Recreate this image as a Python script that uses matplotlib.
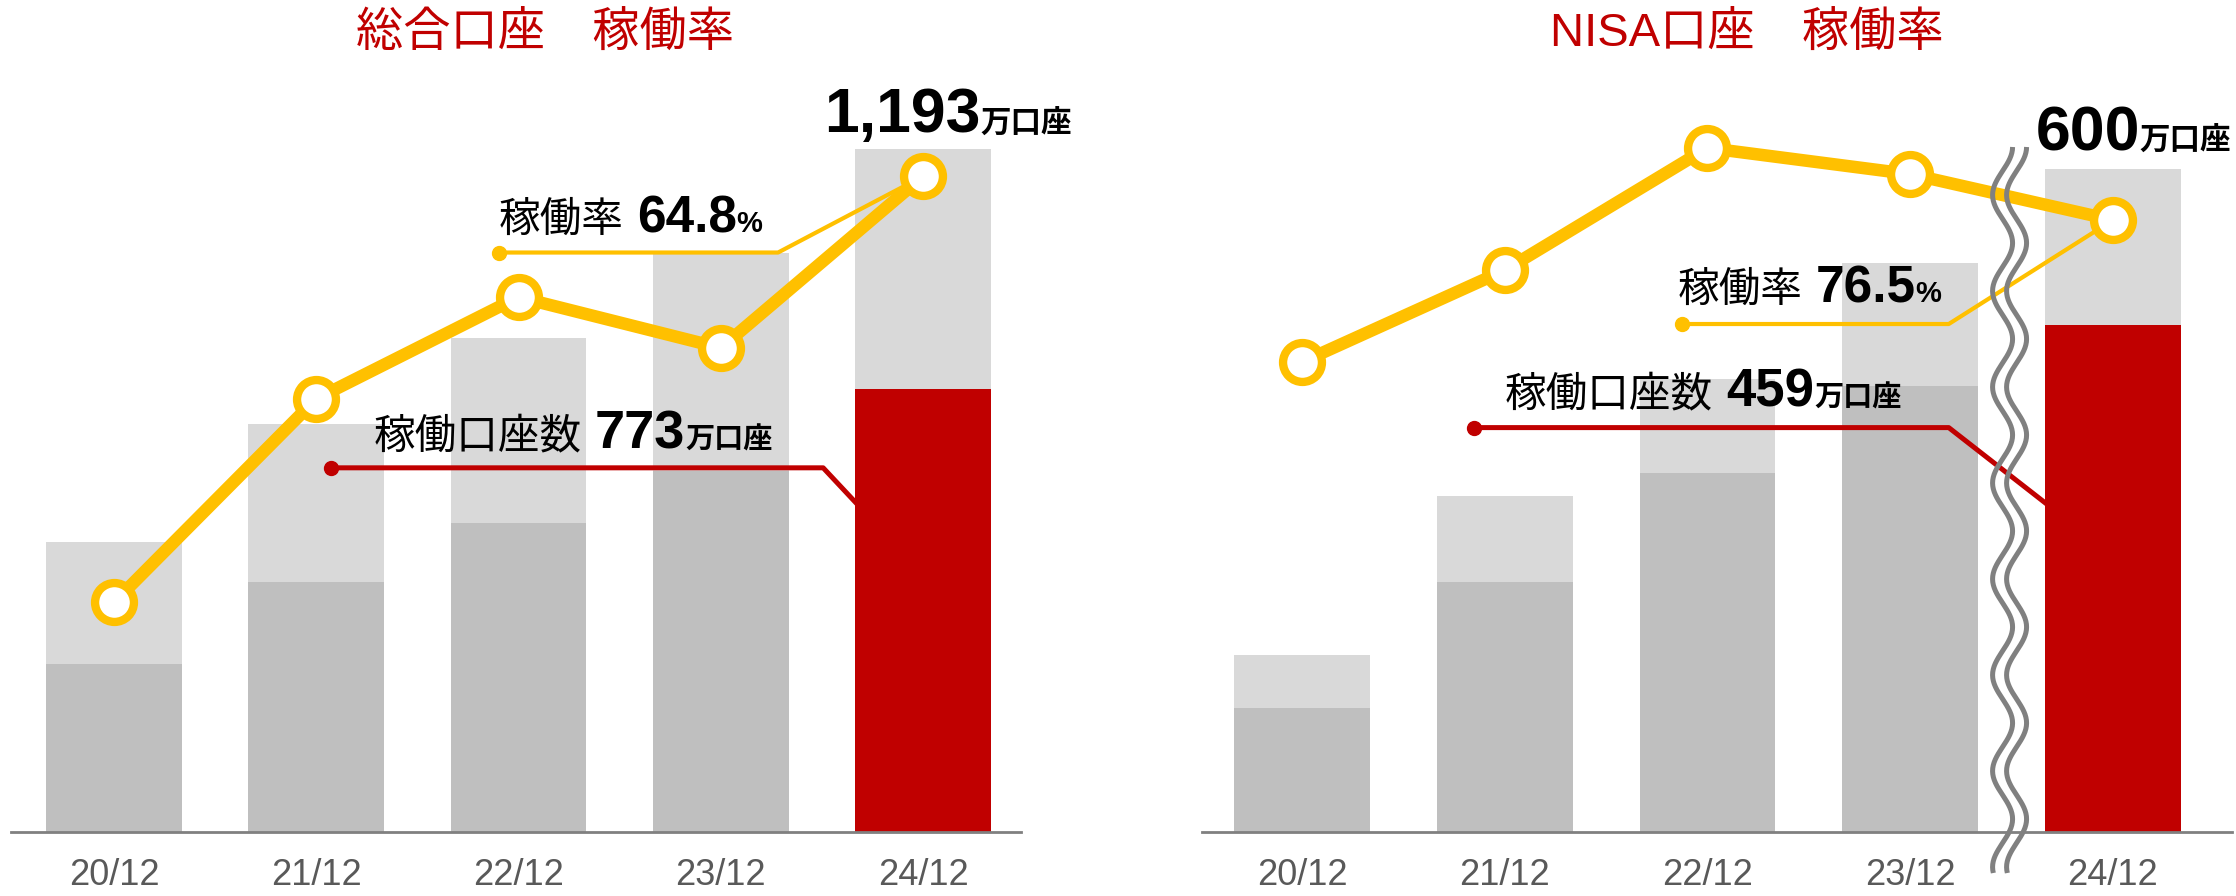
import numpy as np
import matplotlib.pyplot as plt
import matplotlib.transforms as mtransforms

plt.rcParams['font.family'] = ['Liberation Sans', 'Noto Sans CJK JP']

labels = ['20/12', '21/12', '22/12', '23/12', '24/12']
# 総合口座 (万口座, %)
sogo_total = [506, 712, 862, 1011, 1193]
sogo_active = [294, 436, 540, 630, 773]
sogo_rate = [58.1, 61.3, 62.9, 62.1, 64.8]
# NISA口座 (万口座, %)
nisa_total = [160, 304, 410, 515, 600]
nisa_active = [112, 226, 325, 404, 459]
nisa_rate = [70.0, 74.2, 79.8, 78.6, 76.5]

LIGHT = '#D9D9D9'
DARK = '#BFBFBF'
RED = '#C00000'
YELLOW = '#FFC000'
W = 0.67

fig = plt.figure(figsize=(22.36, 8.96), dpi=100)
renderer = fig.canvas.get_renderer()
ident = mtransforms.IdentityTransform()


def rich(ax, fx, fy, parts):
    # parts: (text, size, weight, gap in px after)
    x, y = ax.transAxes.transform((fx, fy))
    for s, size, weight, gap in parts:
        t = ax.text(x, y, s, fontsize=size, fontweight=weight, color='black',
                    transform=ident, ha='left', va='baseline', zorder=10)
        x = t.get_window_extent(renderer).x1 + gap


def panel(rect, xlim, ylim, rlim, total, active, rate, title):
    ax = fig.add_axes(rect)
    x = np.arange(len(labels))
    ax.bar(x, total, W, color=LIGHT, zorder=1)
    ax.bar(x, active, W, color=[DARK] * 4 + [RED], zorder=2)
    ax.set_xlim(xlim)
    ax.set_ylim(ylim)
    ax.set_xticks(x, labels)
    ax.set_yticks([])
    ax.tick_params(axis='x', length=0, pad=19, labelsize=26, labelcolor='#595959')
    for s in ['top', 'right', 'left']:
        ax.spines[s].set_visible(False)
    ax.spines['bottom'].set_color('#808080')
    ax.spines['bottom'].set_linewidth(2)
    ax.patch.set_visible(False)
    ax.text(0.529, 0.959, title, transform=ax.transAxes, ha='center', va='center',
            fontsize=34, color=RED)

    ax2 = ax.twinx()
    ax2.set_ylim(rlim)
    ax2.axis('off')
    ax2.plot(x, rate, color=YELLOW, lw=9, marker='o', ms=28, mfc='white',
             mec=YELLOW, mew=6, zorder=5, clip_on=False)
    return ax, ax2


# 総合口座
axL, axL2 = panel([11 / 2236, 64 / 896, 1010 / 2236, 832 / 896], (-0.509, 4.484),
                  (0, 1453), (54.49, 67.57), sogo_total, sogo_active, sogo_rate,
                  '総合口座　稼働率')
axL2.plot([1.904, 3.283, 4], [63.6, 63.6, sogo_rate[-1]], color=YELLOW, lw=3, zorder=4)
axL2.plot([1.904], [63.6], 'o', color=YELLOW, ms=10, zorder=4)
axL.plot([1.073, 3.506, 4 - W / 2], [636, 636, 576], color=RED, lw=3.6, zorder=4)
axL.plot([1.073], [636], 'o', color=RED, ms=10, zorder=4)
rich(axL, 0.805, 0.841, [('1,193', 45, 'bold', 0), ('万口座', 22, 'bold', 0)])
rich(axL, 0.483, 0.721, [('稼働率', 30, 'normal', 13), ('64.8', 37, 'bold', 0),
                         ('%', 21, 'bold', 0)])
rich(axL, 0.359, 0.4615, [('稼働口座数', 30, 'normal', 13), ('773', 39, 'bold', 0),
                          ('万口座', 21, 'bold', 0)])

# NISA口座
axR, axR2 = panel([1202 / 2236, 64 / 896, 1030 / 2236, 832 / 896], (-0.493, 4.587),
                  (0, 753), (48.49, 86.57), nisa_total, nisa_active, nisa_rate,
                  'NISA口座　稼働率')
axR2.plot([1.874, 3.19, 4], [71.74, 71.74, nisa_rate[-1]], color=YELLOW, lw=3, zorder=4)
axR2.plot([1.874], [71.74], 'o', color=YELLOW, ms=10, zorder=4)
axR.plot([0.848, 3.19, 4 - W / 2], [366, 366, 298], color=RED, lw=3.6, zorder=4)
axR.plot([0.848], [366], 'o', color=RED, ms=10, zorder=4)
rich(axR, 0.809, 0.8197, [('600', 45, 'bold', 0), ('万口座', 22, 'bold', 0)])
rich(axR, 0.462, 0.637, [('稼働率', 30, 'normal', 13), ('76.5', 37, 'bold', 0),
                         ('%', 21, 'bold', 0)])
rich(axR, 0.294, 0.511, [('稼働口座数', 30, 'normal', 13), ('459', 38, 'bold', 0),
                         ('万口座', 21, 'bold', 0)])

# break mark between 23/12 and 24/12
cx, _ = axR.transData.transform((3.49, 0))
yy = np.linspace(23, 749, 500)
xx = cx + 10 * np.sin(2 * np.pi * (yy - 749) / 96 + np.pi / 2)
for off in (-7, 7):
    axR2.plot(xx + off, yy, color='#808080', lw=3.6, transform=ident,
              clip_on=False, zorder=20, solid_capstyle='butt')

fig.savefig('out.png', dpi=100)
